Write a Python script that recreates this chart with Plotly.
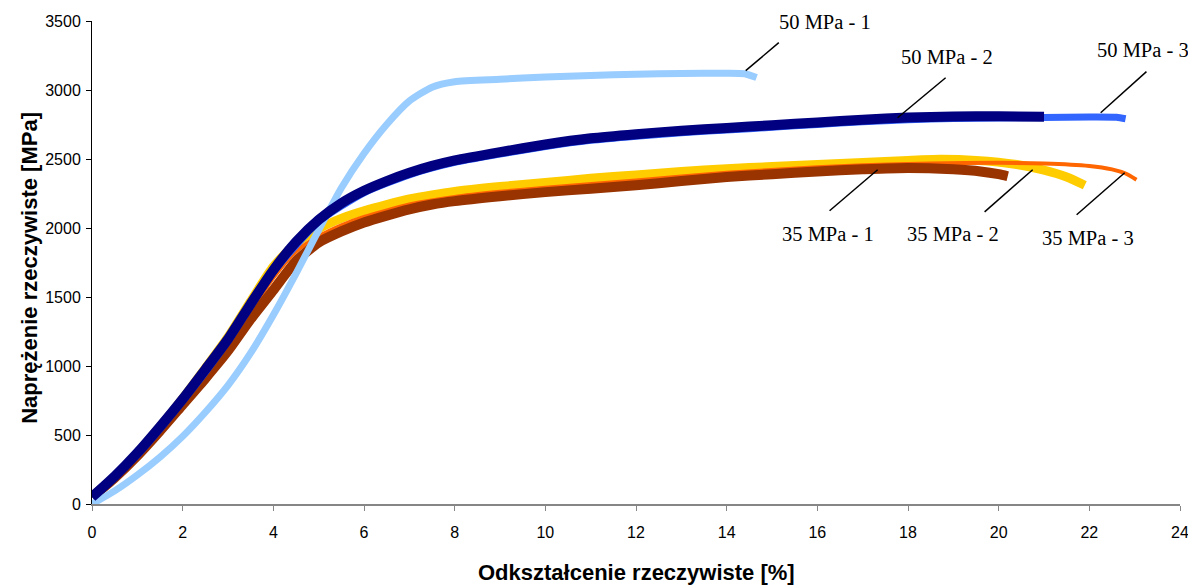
import plotly.graph_objects as go

# 50 MPa - 1 (light blue)
x_50_1 = [0, 0.5, 1, 1.5, 2, 2.5, 3, 3.5, 4, 4.5, 5, 5.5, 6, 6.5, 7, 7.5, 8, 9, 10, 11, 12, 13, 14, 14.4, 14.66]
y_50_1 = [0, 95, 210, 340, 490, 665, 860, 1095, 1370, 1670, 1985, 2290, 2540, 2750, 2920, 3020, 3060, 3078, 3095, 3105, 3115, 3120, 3122, 3118, 3090]

# 50 MPa - 2 (navy)
x_50_2 = [0, 0.5, 1, 1.5, 2, 2.5, 3, 3.5, 4, 4.5, 5, 5.5, 6, 6.5, 7, 7.5, 8, 9, 10, 11, 12, 13, 14, 15, 16, 17, 18, 19, 20, 21]
y_50_2 = [50, 200, 370, 560, 760, 975, 1195, 1450, 1695, 1900, 2060, 2180, 2270, 2340, 2400, 2450, 2490, 2550, 2605, 2650, 2680, 2705, 2725, 2745, 2765, 2785, 2800, 2808, 2810, 2806]

# 50 MPa - 3 (blue)
x_50_3 = [0, 1, 2, 3, 4, 5, 6, 7, 8, 9, 10, 11, 12, 13, 14, 15, 16, 17, 18, 19, 20, 21, 22, 22.6, 22.8]
y_50_3 = [50, 355, 745, 1180, 1680, 2045, 2255, 2385, 2475, 2535, 2590, 2635, 2665, 2690, 2710, 2730, 2750, 2770, 2785, 2793, 2797, 2800, 2805, 2803, 2792]

# 35 MPa - 1 (brown)
x_35_1 = [0, 0.5, 1, 1.5, 2, 2.5, 3, 3.5, 4, 4.5, 5, 5.5, 6, 6.5, 7, 7.5, 8, 9, 10, 11, 12, 13, 14, 15, 16, 17, 18, 19, 19.6, 20, 20.2]
y_35_1 = [50, 190, 350, 530, 720, 910, 1110, 1340, 1550, 1760, 1895, 1975, 2040, 2090, 2135, 2170, 2195, 2230, 2260, 2285, 2310, 2340, 2370, 2390, 2410, 2425, 2435, 2425, 2410, 2390, 2375]

# 35 MPa - 2 (gold)
x_35_2 = [0, 0.5, 1, 1.5, 2, 2.5, 3, 3.5, 4, 4.5, 5, 5.5, 6, 6.5, 7, 7.5, 8, 9, 10, 11, 12, 13, 14, 15, 16, 17, 18, 18.7, 19.5, 20.4, 21, 21.5, 21.9]
y_35_2 = [50, 200, 370, 560, 765, 985, 1210, 1470, 1720, 1890, 1995, 2070, 2125, 2170, 2210, 2240, 2265, 2300, 2330, 2360, 2385, 2410, 2430, 2445, 2460, 2475, 2490, 2498, 2490, 2460, 2420, 2370, 2310]

# 35 MPa - 3 (orange)
x_35_3 = [0, 1, 2, 3, 3.5, 4, 4.5, 5, 5.5, 6, 7, 8, 9, 10, 12, 14, 16, 17, 18.5, 20, 21, 22, 22.5, 22.8, 23.04]
y_35_3 = [50, 360, 740, 1160, 1400, 1640, 1830, 1940, 2020, 2080, 2170, 2225, 2262, 2292, 2345, 2400, 2440, 2455, 2468, 2472, 2468, 2450, 2425, 2395, 2350]

labels = ["50 MPa - 1", "50 MPa - 2", "50 MPa - 3", "35 MPa - 1", "35 MPa - 2", "35 MPa - 3"]
# label text positions and leader lines (data coordinates)
label_x = [16.16, 18.85, 23.18, 16.23, 18.99, 21.96]
label_y = [3495, 3241, 3292, 1958, 1958, 1929]
lead_x0 = [15.15, 18.83, 23.26, 16.27, 19.69, 21.72]
lead_y0 = [3343, 3089, 3133, 2125, 2117, 2096]
lead_x1 = [14.42, 17.77, 22.25, 17.33, 20.75, 22.78]
lead_y1 = [3140, 2799, 2835, 2422, 2422, 2400]

x_ticks = list(range(0, 25, 2))
y_ticks = list(range(0, 3501, 500))

fig = go.Figure()

def add(x, y, color, width, name):
    fig.add_trace(go.Scatter(x=x, y=y, mode="lines", name=name,
                             line=dict(color=color, width=width, shape="spline", smoothing=0.6)))

add(x_35_2, y_35_2, "#FFCC00", 9, labels[4])
add(x_35_3, y_35_3, "#FF6600", 4, labels[5])
add(x_35_1, y_35_1, "#993300", 10, labels[3])
add(x_50_1, y_50_1, "#99CCFF", 7, labels[0])
add(x_50_3, y_50_3, "#3366FF", 7, labels[2])
add(x_50_2, y_50_2, "#000080", 10, labels[1])

for i, t in enumerate(labels):
    fig.add_annotation(x=label_x[i], y=label_y[i], text=t, showarrow=False,
                       font=dict(family="Liberation Serif, Times New Roman, serif", size=20.5, color="black"),
                       xanchor="center", yanchor="middle")
    fig.add_shape(type="line", x0=lead_x0[i], y0=lead_y0[i], x1=lead_x1[i], y1=lead_y1[i],
                  xref="x", yref="y", line=dict(color="black", width=1.5))

# axis titles
fig.add_annotation(xref="paper", yref="paper", x=-62 / 1088, y=0.489, textangle=-90,
                   text="<b>Naprężenie rzeczywiste [MPa]</b>", showarrow=False,
                   font=dict(size=22, color="black"), xanchor="center", yanchor="middle")
fig.add_annotation(xref="paper", yref="paper", x=0.5, y=-68 / 483,
                   text="<b>Odkształcenie rzeczywiste [%]</b>", showarrow=False,
                   font=dict(size=22, color="black"), xanchor="center", yanchor="middle")

fig.update_layout(
    width=1188, height=577,
    margin=dict(l=84, r=16, t=13, b=81, autoexpand=False),
    paper_bgcolor="white", plot_bgcolor="white",
    showlegend=False,
    font=dict(family="Liberation Sans, Arial, sans-serif", color="black"),
)
fig.update_xaxes(
    range=[0, 24], tickvals=x_ticks, ticktext=[str(v) for v in x_ticks],
    showline=True, linecolor="#868686", linewidth=2, showgrid=False, zeroline=False,
    ticks="outside", ticklen=5, tickcolor="#868686", tickwidth=1,
    tickfont=dict(size=16, color="black"), ticklabelstandoff=8,
)
fig.update_yaxes(
    range=[0, 3500], tickvals=y_ticks, ticktext=[str(v) for v in y_ticks],
    showline=True, linecolor="black", linewidth=1, showgrid=False, zeroline=False,
    ticks="outside", ticklen=5, tickcolor="black", tickwidth=1,
    tickfont=dict(size=16, color="black"), ticklabelstandoff=2,
)

fig.write_html("out.html")
